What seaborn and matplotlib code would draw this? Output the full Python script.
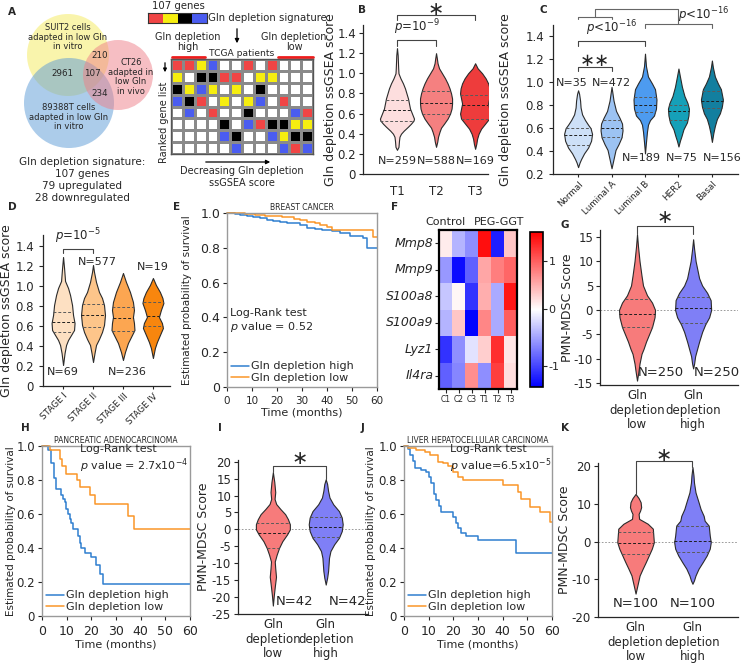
import numpy as np
import pandas as pd
import matplotlib
matplotlib.use("Agg")
import matplotlib.pyplot as plt
import seaborn as sns
from matplotlib.colors import ListedColormap, TwoSlopeNorm
from matplotlib.patches import Circle

sns.set_style("ticks")
plt.rcParams["font.family"] = ["DejaVu Sans"]
plt.rcParams["axes.unicode_minus"] = False
plt.rcParams["axes.linewidth"] = 0.9
plt.rcParams["xtick.major.size"] = 3
plt.rcParams["ytick.major.size"] = 3
plt.rcParams["xtick.major.width"] = 0.8
plt.rcParams["ytick.major.width"] = 0.8

# ======================= DATA =======================
# --- A: Venn + schematic
venn_labels = ["SUIT2 cells\nadapted in low Gln\nin vitro",
               "CT26\nadapted in\nlow Gln\nin vivo",
               "89388T cells\nadapted in low Gln\nin vitro"]
venn_numbers = [2961, 107, 210, 234]
signature_lines = ["Gln depletion signature:", "107 genes", "79 upregulated", "28 downregulated"]
scheme_bar = "RYKB"
scheme_rows = ["RRYBWWRWRWWW",
               "YWKKRRWYYWWW",
               "KYBYWYWKWWWW",
               "BKRWYWYBWRWW",
               "WBWRWWKWWWBR",
               "WWWWKWBRKKYY",
               "WWWWBKWWBYKK",
               "WWWWWBWWWBRB"]
scheme_code = {"W": 0, "R": 1, "Y": 2, "K": 3, "B": 4}

# --- B: tumour grade
b_groups = ["T1", "T2", "T3"]
b_n = [259, 588, 169]
b_quart = [[0.53, 0.635, 0.735], [0.60, 0.71, 0.82], [0.55, 0.69, 0.78]]
b_prof_y = [[0.24, 0.27, 0.33, 0.37, 0.40, 0.43, 0.47, 0.50, 0.53, 0.55, 0.60, 0.65, 0.70, 0.75, 0.80, 0.85, 0.90, 0.95, 1.00, 1.05, 1.10, 1.18, 1.25],
            [0.27, 0.32, 0.37, 0.42, 0.46, 0.50, 0.55, 0.60, 0.65, 0.70, 0.75, 0.80, 0.85, 0.90, 0.95, 1.00, 1.05, 1.10, 1.15, 1.20],
            [0.25, 0.30, 0.35, 0.40, 0.45, 0.50, 0.55, 0.60, 0.65, 0.70, 0.75, 0.80, 0.85, 0.90, 0.95, 1.00, 1.05, 1.10]]
b_prof_w = [[0, 1.5, 2, 2.5, 4, 6.7, 11, 14, 16.5, 17, 15, 13, 12, 11, 9.5, 8, 6, 3.5, 1.5, 1.2, 1, 0.7, 0],
            [0, 1.2, 2, 3.5, 5, 8, 11.5, 14, 15.5, 16, 16, 15, 13.5, 11.5, 9, 6, 3, 1.5, 0.8, 0],
            [0, 1.2, 2, 3.5, 6, 10, 14, 15, 14, 13, 14, 15, 14.5, 13, 10.5, 7, 2.5, 0]]

# --- C: PAM50 subtypes
c_groups = ["Normal", "Luminal A", "Luminal B", "HER2", "Basal"]
c_n = [35, 472, 189, 75, 156]
c_quart = [[0.45, 0.54, 0.60], [0.52, 0.60, 0.67], [0.74, 0.80, 0.87], [0.67, 0.75, 0.80], [0.78, 0.84, 0.92]]
c_prof_y = [[0.26, 0.30, 0.33, 0.38, 0.43, 0.49, 0.55, 0.60, 0.63, 0.67, 0.72, 0.78, 0.84, 0.90, 0.93],
            [0.25, 0.29, 0.35, 0.41, 0.46, 0.52, 0.58, 0.64, 0.69, 0.75, 0.84, 0.90, 0.96],
            [0.38, 0.48, 0.57, 0.63, 0.67, 0.71, 0.77, 0.85, 0.94, 0.99, 1.05, 1.14, 1.25],
            [0.44, 0.49, 0.53, 0.59, 0.65, 0.71, 0.77, 0.82, 0.88, 0.96, 1.05, 1.12],
            [0.48, 0.56, 0.62, 0.68, 0.73, 0.79, 0.85, 0.94, 0.99, 1.05, 1.13, 1.19]]
c_prof_w = [[0, 1.5, 3, 6, 10, 13, 14, 12.5, 10, 7, 4, 2.5, 2, 1, 0],
            [0, 1, 2.5, 4, 7, 10, 11, 10.5, 8, 4.5, 2, 1, 0],
            [0, 1, 2, 3, 5, 9, 11, 11.5, 10, 7, 3, 1, 0],
            [0, 1.5, 3, 5, 8.5, 10, 10.5, 9, 6, 3.5, 1.5, 0],
            [0, 1.5, 3, 5, 8, 10, 11, 9, 6, 3, 1, 0]]

# --- D: stages
d_groups = ["STAGE I", "STAGE II", "STAGE III", "STAGE IV"]
d_n = [69, 577, 236, 19]
d_quart = [[0.54, 0.64, 0.74], [0.59, 0.71, 0.82], [0.55, 0.68, 0.79], [0.60, 0.70, 0.84]]
d_prof_y = [[0.21, 0.33, 0.41, 0.46, 0.51, 0.56, 0.63, 0.71, 0.81, 0.91, 0.98, 1.05, 1.18, 1.29],
            [0.24, 0.33, 0.41, 0.47, 0.54, 0.61, 0.71, 0.81, 0.88, 0.94, 1.04, 1.14, 1.21],
            [0.26, 0.34, 0.43, 0.49, 0.56, 0.63, 0.69, 0.76, 0.84, 0.94, 1.04, 1.13],
            [0.28, 0.38, 0.44, 0.51, 0.58, 0.63, 0.69, 0.76, 0.83, 0.88, 0.94, 1.01, 1.08]]
d_prof_w = [[0, 1.5, 3, 5, 8, 11, 11.5, 10, 9, 7, 5, 2, 1, 0],
            [0, 1.5, 3, 6, 9, 11, 12, 11, 9, 6, 3, 1, 0],
            [0, 2, 5, 8, 11.5, 11, 10, 11, 10, 7, 3, 0],
            [0, 2, 4, 7, 10, 9, 6, 8, 10.5, 9.5, 7, 3, 0]]

# --- E / H / J: Kaplan-Meier curves (time in months, survival probability)
e_hi_t = [0, 3, 5, 8, 10.5, 13, 16, 18.5, 21, 24, 27, 29, 32, 35, 38, 42, 45, 49, 52, 54.5, 56, 60]
e_hi_s = [1.0, 0.995, 0.99, 0.982, 0.976, 0.97, 0.962, 0.955, 0.95, 0.945, 0.94, 0.93, 0.915, 0.91, 0.905, 0.895, 0.885, 0.87, 0.865, 0.855, 0.8, 0.8]
e_lo_t = [0, 7, 11, 15, 18.5, 22, 26.6, 29, 32, 35, 37, 40, 42, 58.5, 60]
e_lo_s = [1.0, 0.995, 0.99, 0.985, 0.98, 0.975, 0.967, 0.96, 0.95, 0.945, 0.933, 0.92, 0.9, 0.86, 0.86]
h_hi_t = [0, 2.4, 3.8, 4.9, 5.8, 7.9, 8.5, 9.3, 9.9, 10.6, 11.2, 11.9, 12.6, 14.6, 15.3, 16, 17.3, 20, 22, 23.4, 24.8, 60]
h_hi_s = [1.0, 0.975, 0.9, 0.81, 0.75, 0.71, 0.69, 0.67, 0.63, 0.6, 0.57, 0.55, 0.51, 0.47, 0.43, 0.4, 0.37, 0.35, 0.3, 0.25, 0.19, 0.19]
h_lo_t = [0, 3.1, 7.2, 8.3, 9.9, 14, 15.3, 19.4, 21.4, 35, 37.4, 60]
h_lo_s = [1.0, 0.975, 0.925, 0.88, 0.837, 0.8, 0.76, 0.71, 0.66, 0.59, 0.51, 0.51]
j_hi_t = [0, 1.6, 2.5, 3.5, 4.5, 7, 9, 10, 11, 12, 13, 14, 15, 20, 21, 22, 23, 25, 30, 45.6, 60]
j_hi_s = [1.0, 0.98, 0.95, 0.91, 0.87, 0.86, 0.85, 0.82, 0.78, 0.72, 0.68, 0.65, 0.61, 0.58, 0.55, 0.52, 0.49, 0.47, 0.45, 0.37, 0.37]
j_lo_t = [0, 1.6, 5, 8.4, 10.4, 13.8, 15.8, 17.8, 19.8, 21.9, 23.9, 40.2, 46.3, 47.5, 51, 55, 59, 60]
j_lo_s = [1.0, 0.99, 0.975, 0.965, 0.946, 0.907, 0.9, 0.88, 0.85, 0.82, 0.8, 0.77, 0.73, 0.69, 0.64, 0.61, 0.555, 0.555]

# --- F: heatmap
f_genes = ["Mmp8", "Mmp9", "S100a8", "S100a9", "Lyz1", "Il4ra"]
f_samples = ["C1", "C2", "C3", "T1", "T2", "T3"]
f_values = [[0.12, -0.40, -0.60, 1.50, -1.20, 0.35],
            [-0.55, -1.30, -0.85, 0.55, 0.80, 0.95],
            [-0.30, 0.05, -1.10, 0.50, -0.45, 1.45],
            [-0.40, 0.35, -1.35, 0.75, -0.45, 1.00],
            [-1.10, -0.60, -0.15, 0.30, 1.30, 0.15],
            [-0.85, -0.65, 0.70, -0.60, 1.20, 0.20]]

# --- G / I / K: PMN-MDSC score violins (low, high)
pm_groups = ["Gln\ndepletion\nlow", "Gln\ndepletion\nhigh"]
g_n = [250, 250]
g_quart = [[-3.4, -0.8, 2.25], [-2.6, 0.5, 2.7]]
g_prof_y = [[-14.5, -12.5, -11, -9, -8, -6.5, -5, -3.5, -1.5, 0, 1.5, 3, 5, 7, 10, 13, 15.5],
            [-12, -11, -9.5, -8, -6.5, -4.5, -3, -1.5, 0, 2, 3.5, 5, 6.5, 10, 12.5, 14.5]]
g_prof_w = [[0, 1.5, 2.5, 4.5, 6.5, 9, 12, 15, 17.5, 18, 15, 10, 6, 4.5, 2.5, 1, 0],
            [0, 1, 2, 4, 6, 9, 12, 16, 18, 17.5, 14, 9, 6, 2.5, 1, 0]]
i_n = [42, 42]
i_quart = [[-5.6, -1.2, 1.9], [-2.2, 0.8, 3.7]]
i_prof_y = [[-22.5, -19.5, -17, -14, -11.5, -9.5, -7.5, -5.5, -3.5, -1.5, 0, 1.5, 3, 4.5, 6, 7.5, 9, 11, 14, 16.9],
            [-16.3, -14.3, -12.3, -10.4, -8.4, -6.4, -4.4, -2.5, -0.5, 1.5, 3.5, 5.4, 7.4, 9.4, 11.4, 13.4, 14.8]]
i_prof_w = [[0, 1, 2, 3.3, 2.5, 2, 4, 6.5, 10, 15, 18, 18, 16, 13, 8, 3.5, 1.8, 2.5, 1.5, 0],
            [0, 1.5, 2.5, 3, 3.5, 5, 9, 14, 17, 18, 17, 14, 8, 4, 2.5, 1.5, 0]]
k_n = [100, 100]
k_quart = [[-3.2, -0.5, 2.6], [-2.8, 0.2, 4.2]]
k_prof_y = [[-13.8, -12.6, -10.8, -9, -7.2, -5.5, -3.7, -1.9, -0.2, 1.6, 3.4, 4.7, 6, 7.3, 8.2, 9.1, 10.4, 11.5, 12.6],
            [-11.2, -10.3, -9, -7.2, -5.5, -3.7, -1.9, -0.2, 1.6, 4.2, 5.5, 6.8, 8.6, 10.4, 13, 15.6, 17.5, 19.7]]
k_prof_w = [[0, 1, 2.5, 4, 7, 10, 13, 16, 18, 17.5, 17, 12, 3.5, 3, 4.5, 5.5, 5, 3, 0],
            [0, 1.5, 3, 6, 10, 14, 17, 18, 17, 16, 12, 11, 8, 6, 3, 1.5, 1, 0]]

# ======================= STYLE =======================
b_colors = ["#fddede", "#f58080", "#ee3c3c"]
c_colors = ["#cde0f7", "#9cc3f3", "#4d9bf0", "#16a0b8", "#137f9f"]
d_colors = ["#fde0c2", "#fdc58a", "#fca651", "#f8860e"]
pm_colors = ["#f77b7b", "#7f7ff6"]
c_hi, c_lo = "#2f7fd0", "#fa9628"
scheme_cmap = ListedColormap(["white", "#f04545", "#f6ee10", "black", "#4a5cf0"])

W, H = 742, 666
fig = plt.figure(figsize=(W / 100, H / 100), dpi=100)


def pax(l, t, r, b):
    a = fig.add_axes([l / W, 1 - b / H, (r - l) / W, (b - t) / H])
    a.patch.set_visible(False)
    return a


ov = pax(0, 0, W, H)
ov.set_xlim(0, W)
ov.set_ylim(H, 0)
ov.axis("off")


def violins(ax, prof_y, prof_w, quart, colors, ppu):
    for i, (ys, ws, q, c) in enumerate(zip(prof_y, prof_w, quart, colors)):
        ys = np.asarray(ys, float)
        ws = np.asarray(ws, float) / ppu
        ax.fill_betweenx(ys, i - ws, i + ws, facecolor=c, edgecolor="#2b2b2b", linewidth=0.8, zorder=2)
        for k, qv in enumerate(q):
            hw = np.interp(qv, ys, ws)
            ax.plot([i - hw, i + hw], [qv, qv], ls=(0, (3, 2)), lw=0.7,
                    color="#1e1e1e" if k == 1 else "#5a5a5a", zorder=3)


def bracket(ax, x0, x1, y, y0, y1=None, color="#444444", lw=0.8):
    y1 = y0 if y1 is None else y1
    ax.plot([x0, x0, x1, x1], [y0, y, y, y1], color=color, lw=lw, clip_on=False)


def fmt_ticks(ax, vals, fs):
    ax.set_yticks(vals)
    ax.set_yticklabels(["0" if abs(v) < 1e-9 else f"{v:.1f}" for v in vals], fontsize=fs)


# ======================= PANEL A =======================
venn_geom = [(68, 55, 41), (69, 103, 45), (118, 75, 35)]  # yellow, blue, pink
venn_cols = ["#f5eb5a", "#5a9ad6", "#ee7f88"]
for (cx, cy, r), col in zip(venn_geom, venn_cols):
    ov.add_patch(Circle((cx, cy), r, facecolor=col, alpha=0.5, edgecolor="none"))
ov.text(68, 37, venn_labels[0], ha="center", va="center", fontsize=6, linespacing=1.05)
ov.text(131, 77, venn_labels[1], ha="center", va="center", fontsize=6, linespacing=1.05)
ov.text(69, 117, venn_labels[2], ha="center", va="center", fontsize=6, linespacing=1.05)
for num, (x, y) in zip(venn_numbers, [(62, 74), (92, 74), (100, 55), (100, 93)]):
    ov.text(x, y, str(num), ha="center", va="center", fontsize=6.3)
for k, line in enumerate(signature_lines):
    ov.text(82, 162 + 12 * k, line, ha="center", va="center", fontsize=7.5)

ax_bar = pax(148, 13, 207, 23)
sns.heatmap([[scheme_code[c] for c in scheme_bar]], ax=ax_bar, cmap=scheme_cmap, vmin=-0.5, vmax=4.5,
            cbar=False, xticklabels=False, yticklabels=False, linewidths=0)
for sp in ax_bar.spines.values():
    sp.set_visible(True); sp.set_color("#333"); sp.set_linewidth(0.8)
ov.text(178, 6, "107 genes", ha="center", va="center", fontsize=7.3)
ov.text(208, 18, "Gln depletion signature", ha="left", va="center", fontsize=7.3)
ov.annotate("", xy=(237, 46), xytext=(237, 26), arrowprops=dict(arrowstyle="-|>", lw=0.9, color="black", mutation_scale=6))
ov.text(188, 42, "Gln depletion\nhigh", ha="center", va="center", fontsize=7, linespacing=1.1)
ov.text(294, 42, "Gln depletion\nlow", ha="center", va="center", fontsize=7, linespacing=1.1)
ov.plot([172, 205], [57, 57], color="#ee1c1c", lw=2)
ov.plot([278, 313], [57, 57], color="#ee1c1c", lw=2)
ov.text(242, 53, "TCGA patients", ha="center", va="center", fontsize=6.6)

ax_sch = pax(171, 59, 313, 154)
sns.heatmap([[scheme_code[c] for c in row] for row in scheme_rows], ax=ax_sch, cmap=scheme_cmap,
            vmin=-0.5, vmax=4.5, cbar=False, xticklabels=False, yticklabels=False,
            linewidths=0.8, linecolor="#8a8a8a")
for sp in ax_sch.spines.values():
    sp.set_visible(True); sp.set_color("#555"); sp.set_linewidth(1.0)
ov.annotate("", xy=(165, 75), xytext=(165, 60), arrowprops=dict(arrowstyle="-|>", lw=0.9, color="black", mutation_scale=5))
ov.text(164, 122, "Ranked gene list", rotation=90, ha="center", va="center", fontsize=7)
ov.annotate("", xy=(273, 162), xytext=(203, 162), arrowprops=dict(arrowstyle="-|>", lw=0.9, color="black", mutation_scale=6))
ov.text(242, 177, "Decreasing Gln depletion\nssGSEA score", ha="center", va="center", fontsize=7, linespacing=1.2)

# ======================= PANEL B =======================
axB = pax(363, 25, 488, 174)
violins(axB, b_prof_y, b_prof_w, b_quart, b_colors, ppu=39)
axB.set_xlim(-0.87, 2.33)
axB.set_ylim(0, 1.48)
fmt_ticks(axB, np.round(np.arange(0, 1.41, 0.2), 1), 8.5)
axB.set_xticks(range(3))
axB.set_xticklabels(b_groups, fontsize=8.5)
axB.tick_params(axis="x", length=0, pad=8)
axB.tick_params(axis="y", pad=2)
axB.set_ylabel("Gln depletion ssGSEA score", fontsize=9)
axB.yaxis.set_label_coords(-0.205, 0.5)
sns.despine(ax=axB)
for i, n in enumerate(b_n):
    axB.text(i, 0.13, f"N={n}", ha="center", va="center", fontsize=8)
bracket(axB, 0, 1, 1.33, 1.27)
axB.text(0.5, 1.36, r"$p$=10$^{-9}$", ha="center", va="bottom", fontsize=8.5)
bracket(axB, 0, 2, 1.58, 1.53)
axB.text(1, 1.635, "\u2217", ha="center", va="center", fontsize=14, clip_on=False)

# ======================= PANEL C =======================
axC = pax(553, 25, 738, 174)
violins(axC, c_prof_y, c_prof_w, c_quart, c_colors, ppu=33.5)
axC.set_xlim(-0.75, 4.78)
axC.set_ylim(0.2, 1.5)
fmt_ticks(axC, np.round(np.arange(0.2, 1.41, 0.2), 1), 8.5)
axC.set_xticks(range(5))
axC.set_xticklabels(c_groups, fontsize=6.3, rotation=45, ha="right", rotation_mode="anchor")
axC.tick_params(axis="x", length=2, pad=2)
axC.set_ylabel("Gln depletion ssGSEA score", fontsize=9)
axC.yaxis.set_label_coords(-0.22, 0.5)
sns.despine(ax=axC)
for x, y, n in zip([-0.2, 1.0, 1.88, 3.1, 4.3], [0.99, 0.99, 0.34, 0.34, 0.34], c_n):
    axC.text(x, y, f"N={n}", ha="center", va="center", fontsize=8, clip_on=False)
bracket(axC, 0, 1, 1.13, 1.10)
axC.text(0.5, 1.185, "\u2217\u2217", ha="center", va="center", fontsize=13)
bracket(axC, 0, 2, 1.357, 1.32)
axC.text(1, 1.385, r"$p$<10$^{-16}$", ha="center", va="bottom", fontsize=8.5)
bracket(axC, 0, 1, 1.574, 1.548, color="#666")
bracket(axC, 2, 4, 1.513, 1.47, color="#666")
axC.plot([0.5, 0.5, 3, 3], [1.574, 1.643, 1.643, 1.513], color="#666", lw=0.8, clip_on=False)
axC.text(3.75, 1.585, r"$p$<10$^{-16}$", ha="center", va="center", fontsize=8.5, clip_on=False)

# ======================= PANEL D =======================
axD = pax(43, 235, 170, 386)
violins(axD, d_prof_y, d_prof_w, d_quart, d_colors, ppu=30)
axD.set_xlim(-0.67, 3.57)
axD.set_ylim(0, 1.51)
fmt_ticks(axD, np.round(np.arange(0, 1.41, 0.2), 1), 8.5)
axD.set_xticks(range(4))
axD.set_xticklabels(d_groups, fontsize=6.3, rotation=45, ha="right", rotation_mode="anchor")
axD.tick_params(axis="x", length=2, pad=2)
axD.set_ylabel("Gln depletion ssGSEA score", fontsize=9)
axD.yaxis.set_label_coords(-0.235, 0.5)
sns.despine(ax=axD)
for x, y, n in zip([0, 1.13, 2.13, 3.0], [0.14, 1.24, 0.14, 1.19], d_n):
    axD.text(x, y, f"N={n}", ha="center", va="center", fontsize=8)
bracket(axD, 0, 1, 1.37, 1.33)
axD.text(0.5, 1.40, r"$p$=10$^{-5}$", ha="center", va="bottom", fontsize=8.5)


# ======================= KM PANELS =======================
def km(ax, t_hi, s_hi, t_lo, s_lo, title, xfs, yfs, lab_x):
    sns.lineplot(x=t_hi, y=s_hi, drawstyle="steps-post", color=c_hi, lw=1.1, ax=ax,
                 estimator=None, label="Gln depletion high")
    sns.lineplot(x=t_lo, y=s_lo, drawstyle="steps-post", color=c_lo, lw=1.1, ax=ax,
                 estimator=None, label="Gln depletion low")
    for ln in ax.lines:
        ln.set_clip_on(False)
    ax.set_xlim(0, 60)
    ax.set_ylim(0, 1.0)
    ax.set_xticks(range(0, 61, 10))
    ax.set_xticklabels([str(v) for v in range(0, 61, 10)], fontsize=xfs)
    fmt_ticks(ax, [0, 0.2, 0.4, 0.6, 0.8, 1.0], yfs)
    ax.tick_params(axis="y", pad=2)
    ax.set_xlabel("Time (months)", fontsize=8, labelpad=1)
    ax.set_ylabel("Estimated probability of survival", fontsize=7.5)
    ax.yaxis.set_label_coords(lab_x, 0.5)
    for sp in ax.spines.values():
        sp.set_visible(True); sp.set_color("#9a9a9a"); sp.set_linewidth(1.0)
    ax.set_title(title, fontsize=5.5, pad=2)
    ax.legend(loc="lower left", frameon=False, fontsize=8, handlelength=1.6, handletextpad=0.2,
              labelspacing=0.1, borderaxespad=0.2, borderpad=0.2)


axE = pax(227, 213, 377, 387)
km(axE, e_hi_t, e_hi_s, e_lo_t, e_lo_s, "BREAST CANCER", 7.5, 9, -0.23)
axE.text(0.02, 0.38, "Log-Rank test\n$p$ value = 0.52", transform=axE.transAxes, ha="left", va="center", fontsize=8)

axH = pax(42, 446, 190, 616)
km(axH, h_hi_t, h_hi_s, h_lo_t, h_lo_s, "PANCREATIC ADENOCARCINOMA", 9, 8.5, -0.175)
axH.text(0.26, 0.92, "Log-Rank test\n$p$ value = 2.7x10$^{-4}$", transform=axH.transAxes, ha="left", va="center", fontsize=8)

axJ = pax(404, 446, 552, 616)
km(axJ, j_hi_t, j_hi_s, j_lo_t, j_lo_s, "LIVER HEPATOCELLULAR CARCINOMA", 9, 8.5, -0.19)
axJ.text(0.31, 0.92, "Log-Rank test\n$p$ value=6.5x10$^{-5}$", transform=axJ.transAxes, ha="left", va="center", fontsize=8)

# ======================= PANEL F =======================
axF = pax(439, 230, 517, 389)
caxF = pax(530, 232, 543, 387)
f_df = pd.DataFrame(f_values, index=f_genes, columns=f_samples)
sns.heatmap(f_df, ax=axF, cmap="bwr", norm=TwoSlopeNorm(vcenter=0, vmin=-1.37, vmax=1.6),
            cbar_ax=caxF, cbar_kws={"ticks": [-1, 0, 1]}, xticklabels=True, yticklabels=True)
for sp in axF.spines.values():
    sp.set_visible(True); sp.set_color("black"); sp.set_linewidth(1.6)
axF.tick_params(axis="y", length=3, pad=1, labelsize=9, rotation=0)
axF.tick_params(axis="x", length=3, pad=1, labelsize=5.5, rotation=0)
for lbl in axF.get_yticklabels():
    lbl.set_style("italic")
cbar = axF.collections[0].colorbar
cbar.ax.tick_params(labelsize=8, length=3, pad=1)
cbar.outline.set_edgecolor("black")
cbar.outline.set_linewidth(1.2)
ov.text(446, 222, "Control", ha="center", va="center", fontsize=8)
ov.text(499, 222, "PEG-GGT", ha="center", va="center", fontsize=8)


# ======================= PMN-MDSC PANELS =======================
def pm_panel(ax, prof_y, prof_w, quart, ns, ylim, yticks, n_y, star_y, br_y, legs, lab_x, n_dx):
    ax.axhline(0, color="#8a8a8a", ls=(0, (2, 2)), lw=0.6, zorder=1)
    violins(ax, prof_y, prof_w, quart, pm_colors, ppu=56)
    ax.set_xlim(-0.66, 1.8)
    ax.set_ylim(*ylim)
    ax.set_yticks(yticks)
    ax.set_yticklabels([str(v) for v in yticks], fontsize=8.5)
    ax.tick_params(axis="y", pad=2)
    ax.set_xticks([0, 1])
    ax.set_xticklabels(pm_groups, fontsize=8.5, linespacing=1.15)
    ax.tick_params(axis="x", length=0, pad=3)
    ax.set_ylabel("PMN-MDSC Score", fontsize=9)
    ax.yaxis.set_label_coords(lab_x, 0.5)
    sns.despine(ax=ax)
    for i, n in enumerate(ns):
        ax.text(i + n_dx, n_y, f"N={n}", ha="left" if n_dx > 0 else "center", va="center", fontsize=9.5)
    bracket(ax, 0, 1, br_y, legs[0], legs[1])
    ax.text(0.5, star_y, "\u2217", ha="center", va="center", fontsize=14, clip_on=False)


axG = pax(600, 230, 738, 385)
pm_panel(axG, g_prof_y, g_prof_w, g_quart, g_n, (-15.4, 16.4), list(range(-15, 16, 5)), -12.8, 18.9, 17.2,
         (15.6, 15.6), -0.19, 0.02)
axI = pax(238, 460, 368, 614)
pm_panel(axI, i_prof_y, i_prof_w, i_quart, i_n, (-25, 20.5), list(range(-25, 21, 5)), -21.3, 20.9, 18.6,
         (16.9, 14.8), -0.215, 0.05)
axK = pax(598, 463, 738, 617)
pm_panel(axK, k_prof_y, k_prof_w, k_quart, k_n, (-20, 20.8), list(range(-20, 21, 10)), -16.4, 22.9, 21.4,
         (12.6, 19.7), -0.19, 0.0)

# ======================= PANEL LETTERS =======================
for letter, (x, y) in {"A": (12, 12), "B": (362, 10), "C": (543, 10), "D": (12, 207), "E": (177, 207),
                       "F": (395, 207), "G": (565, 225), "H": (25, 428), "I": (220, 428),
                       "J": (362, 428), "K": (565, 428)}.items():
    ov.text(x, y, letter, ha="center", va="center", fontsize=7.5, fontweight="bold")

fig.savefig("out.png", dpi=100)
